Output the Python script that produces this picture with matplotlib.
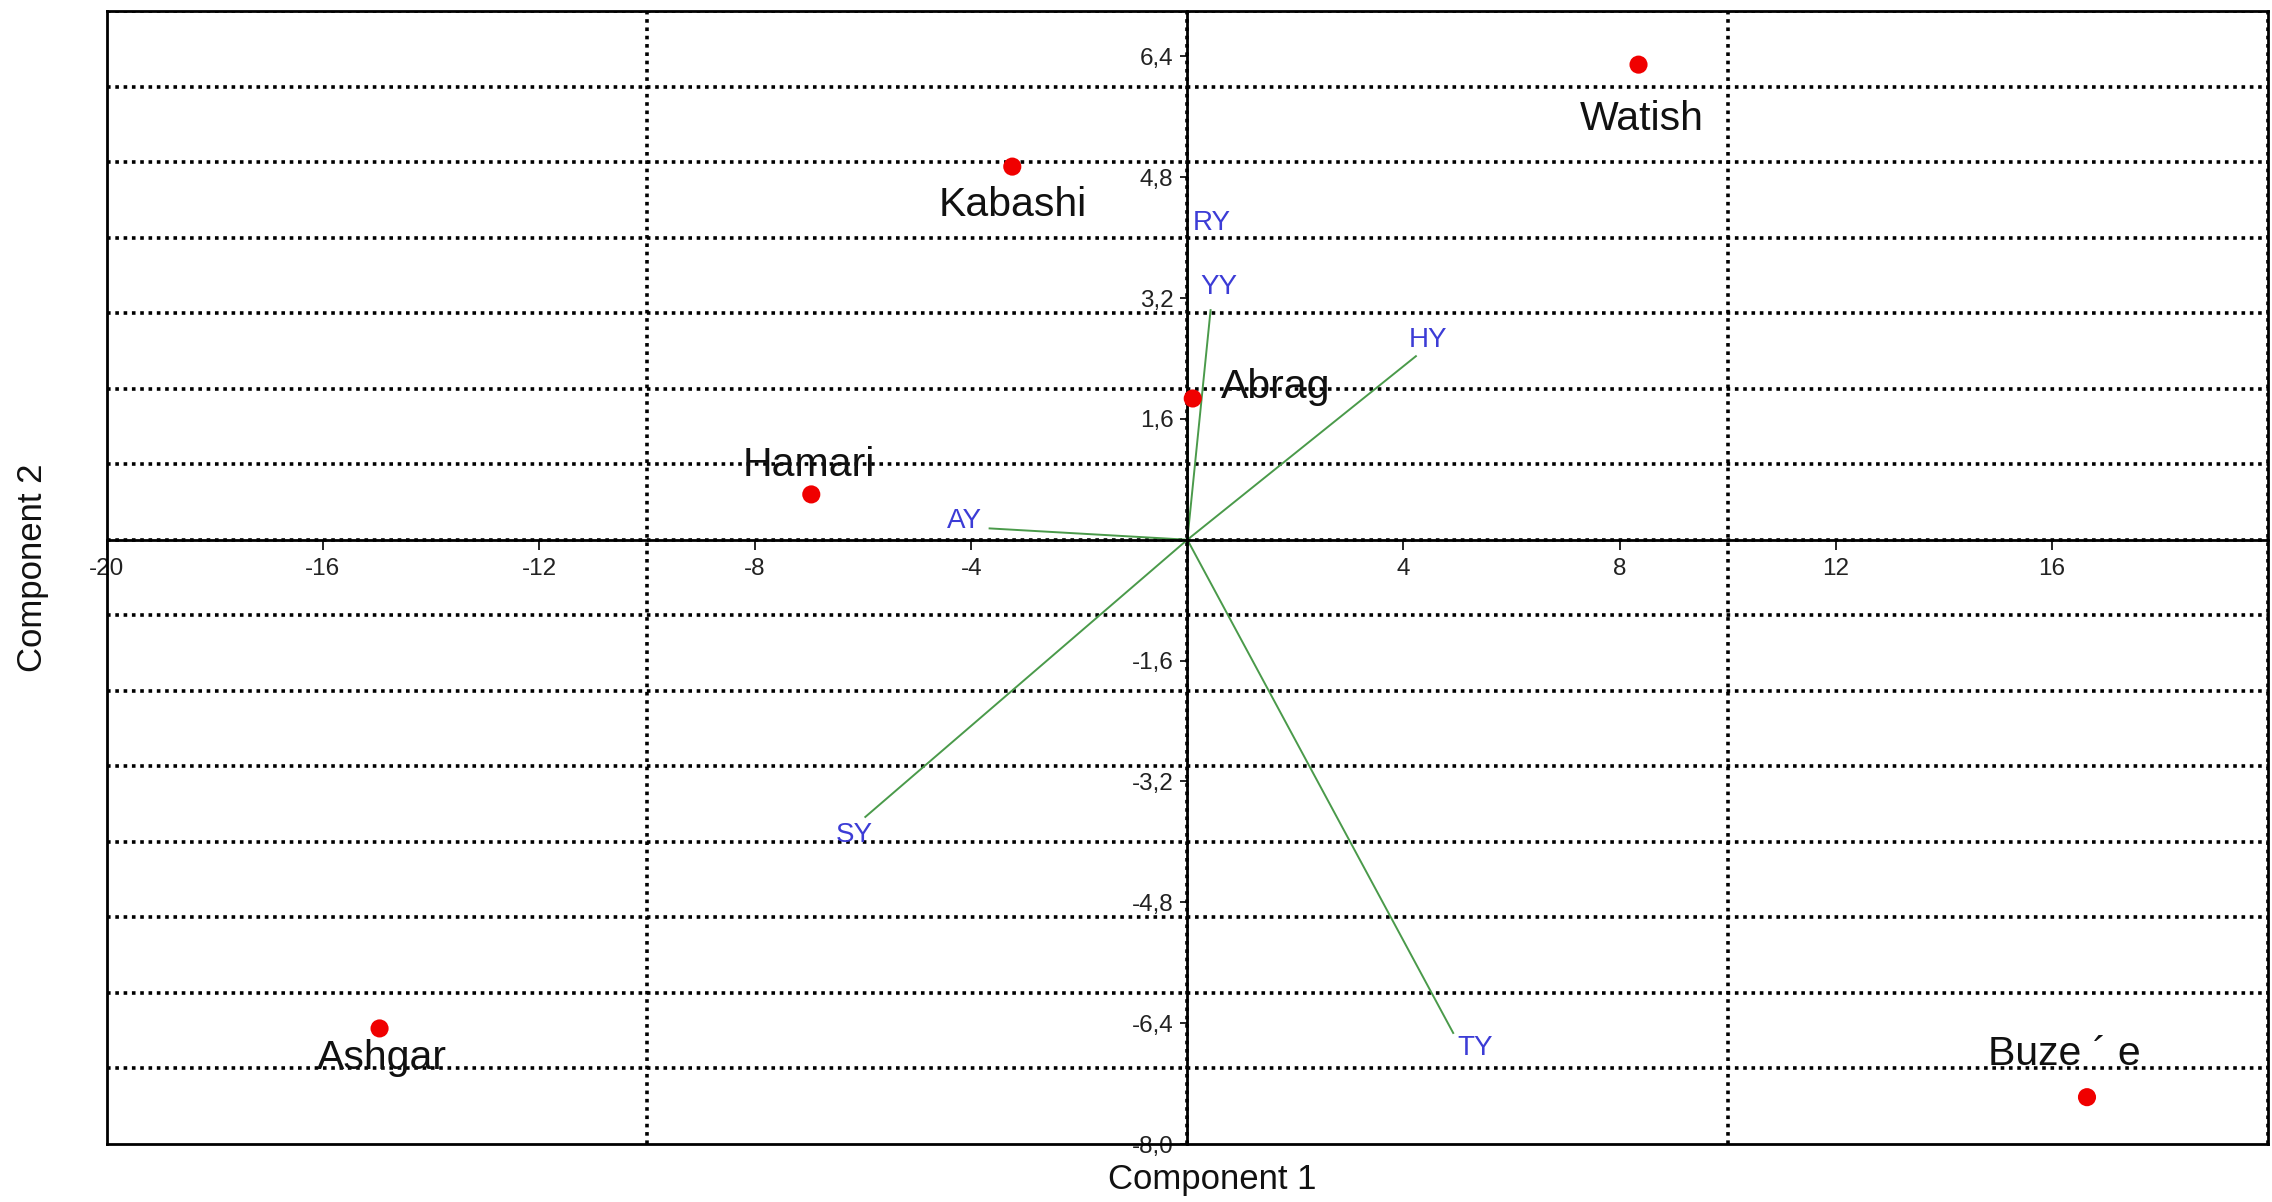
import matplotlib
matplotlib.use("Agg")
import matplotlib.pyplot as plt
from matplotlib.ticker import MultipleLocator, FixedLocator, FuncFormatter

# ---- data ----
site_names = ["Watish", "Kabashi", "Abrag", "Hamari", "Ashgar", "Buze ´ e"]
site_pc1 = [8.35, -3.24, 0.10, -6.96, -14.95, 16.65]
site_pc2 = [6.29, 4.94, 1.87, 0.60, -6.47, -7.38]

var_names = ["RY", "YY", "HY", "AY", "SY", "TY"]
var_pc1 = [0.01, 0.43, 4.23, -3.66, -5.96, 4.92]
var_pc2 = [3.95, 3.04, 2.43, 0.15, -3.67, -6.53]

x_ticks = [-20, -16, -12, -8, -4, 4, 8, 12, 16]
y_ticks = [6.4, 4.8, 3.2, 1.6, -1.6, -3.2, -4.8, -6.4, -8.0]

# label offsets (points)
site_offsets = [(2, -39), (0, -28), (20, 8), (-2, 21), (2, -21), (-16, 31)]
site_ha = ["center", "center", "left", "center", "center", "center"]
var_offsets = [(17, 13), (6, 17), (9, 12), (-18, 5), (-8, -13), (16, -11)]

FONT = "Liberation Sans"
plt.rcParams["font.family"] = [FONT, "DejaVu Sans"]

W, H = 2272, 1202
fig = plt.figure(figsize=(W / 100, H / 100), dpi=100)
L, R, T, B = 106.7, 2268, 11, 1144
ax = fig.add_axes([L / W, 1 - B / H, (R - L) / W, (B - T) / H])
ax.set_xlim(-20, 20)
ax.set_ylim(-8, 7)

# grid (minor locators)
ax.xaxis.set_minor_locator(MultipleLocator(10))
ax.yaxis.set_minor_locator(MultipleLocator(1))
ax.grid(which="minor", color="black", linestyle=(0, (1, 1.3)), linewidth=2.6, zorder=0)
ax.tick_params(which="minor", length=0)

# center spines
ax.spines["left"].set_position(("data", 0))
ax.spines["bottom"].set_position(("data", 0))
for s in ["left", "bottom", "top", "right"]:
    ax.spines[s].set_linewidth(2.0)
    ax.spines[s].set_color("black")
    ax.spines[s].set_zorder(4)
# outer frame left/bottom
ax.plot([0, 0], [0, 1], transform=ax.transAxes, color="black", lw=2.0, clip_on=False, zorder=5)
ax.plot([0, 1], [0, 0], transform=ax.transAxes, color="black", lw=2.0, clip_on=False, zorder=5)

ax.xaxis.set_major_locator(FixedLocator(x_ticks))
ax.yaxis.set_major_locator(FixedLocator(y_ticks))
ax.xaxis.set_major_formatter(FuncFormatter(lambda v, p: f"{v:.0f}"))
ax.yaxis.set_major_formatter(FuncFormatter(lambda v, p: f"{v:.1f}".replace(".", ",")))
ax.tick_params(axis="x", which="major", direction="out", length=7, width=1.2, pad=6,
               labelsize=17.5, colors="black")
ax.tick_params(axis="y", which="major", direction="out", length=5, width=1.2, pad=5,
               labelsize=17.5, colors="black")
for lab in ax.get_xticklabels() + ax.get_yticklabels():
    lab.set_color("#222222")

# vectors
for x, y in zip(var_pc1, var_pc2):
    ax.plot([0, x], [0, y], color="#4a9a4a", lw=1.4, zorder=3)
for name, x, y, off in zip(var_names, var_pc1, var_pc2, var_offsets):
    ax.annotate(name, (x, y), xytext=off, textcoords="offset points",
                ha="center", va="center", fontsize=20, color="#3c3cd6", zorder=6)

# sites
ax.scatter(site_pc1, site_pc2, s=170, color="#f00000", edgecolors="none", zorder=4.5)
for name, x, y, off, ha in zip(site_names, site_pc1, site_pc2, site_offsets, site_ha):
    ax.annotate(name, (x, y), xytext=off, textcoords="offset points",
                ha=ha, va="center", fontsize=29.5, color="#111111", zorder=6)

# axis titles
fig.text(1212 / W, 1 - 1180 / H, "Component 1", ha="center", va="center", fontsize=25, color="#111111")
fig.text(33 / W, 1 - 568 / H, "Component 2", ha="center", va="center", rotation=90,
         fontsize=25, color="#111111")

fig.savefig("out.png", dpi=100, facecolor="white")
